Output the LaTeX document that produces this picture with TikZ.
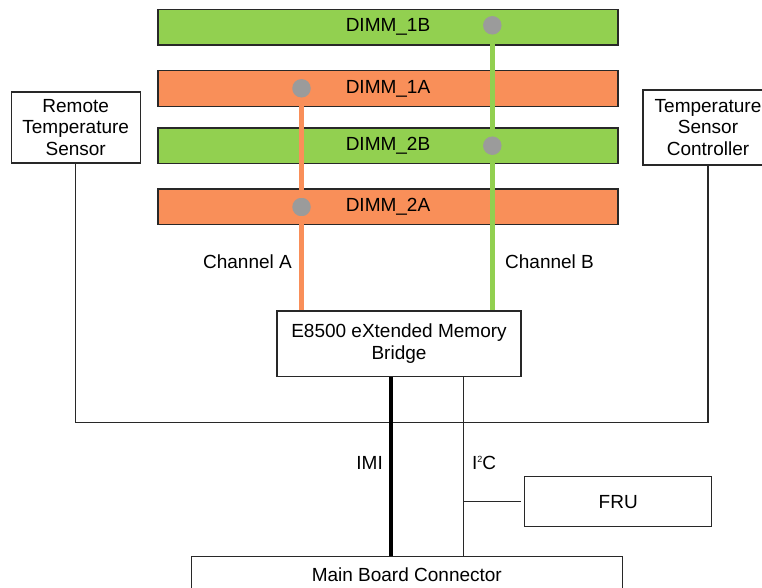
\documentclass[tikz,border=0pt]{standalone}
\usepackage{fontspec}
\setmainfont{Liberation Sans}
\definecolor{dimmgreen}{RGB}{146,208,80}
\definecolor{dimmorange}{RGB}{249,143,89}
\definecolor{dotgray}{RGB}{155,155,155}
\definecolor{edge}{RGB}{40,40,40}
\begin{document}
\begin{tikzpicture}[x=1pt,y=-1pt,
  every node/.style={font=\fontsize{19}{21.7}\selectfont, inner sep=0pt},
  box/.style={draw=edge, line width=1.2pt, fill=white, align=center, rectangle},
  dimmg/.style={draw=edge, line width=1.2pt, fill=dimmgreen, minimum width=460pt, minimum height=35.5pt},
  dimmo/.style={draw=edge, line width=1.2pt, fill=dimmorange, minimum width=460pt, minimum height=35.5pt},
  dot/.style={circle, fill=dotgray, minimum size=18.5pt},
  chA/.style={draw=dimmorange, line width=5.5pt},
  chB/.style={draw=dimmgreen, line width=5.5pt},
  wire/.style={draw=edge, line width=1.2pt},
  lbl/.style={}]
\useasboundingbox (0,0) rectangle (762,588);
\clip (0,0) rectangle (762,588);

% DIMM modules
\node[dimmg] (d1b) at (388,27.2) {DIMM\_1B};
\node[dimmo] (d1a) at (388,88.4) {DIMM\_1A};
\node[dimmg] (d2b) at (388,145.7) {DIMM\_2B};
\node[dimmo] (d2a) at (388,206.7) {DIMM\_2A};

% contact dots
\node[dot] (p1b) at (492.3,25.3) {};
\node[dot] (p1a) at (301.5,88.3) {};
\node[dot] (p2b) at (492.3,145.7) {};
\node[dot] (p2a) at (301.5,207) {};

% bridge
\node[box, minimum width=244pt, minimum height=65.7pt] (xmb) at (399,343.8) {E8500 eXtended Memory\\Bridge};

% channels
\draw[chA] (p1a.south) -- (p2a.north);
\draw[chA] (p2a.south) -- (p2a.south |- xmb.north);
\draw[chB] (p1b.south) -- (p2b.north);
\draw[chB] (p2b.south) -- (p2b.south |- xmb.north);
\node[lbl] (cha) at (247.5,262) {Channel A};
\node[lbl, anchor=west] (chb) at (505,262) {Channel B};

% temperature sensors
\node[box, minimum width=129pt, minimum height=71pt] (rts) at (75.7,127.5) {Remote\\Temperature\\Sensor};
\node[box, minimum width=130pt, minimum height=75pt] (tsc) at (708,127.5) {Temperature\\Sensor\\Controller};
\coordinate (bus) at (0,422.7);
\draw[wire] (rts.south) |- (bus -| tsc.south) -- (tsc.south);

% main board connector and FRU
\node[box, minimum width=431pt, minimum height=37pt, anchor=north west] (mbc) at (190.7,555.7) {Main Board Connector};
\node[box, minimum width=187pt, minimum height=50pt] (fru) at (618.2,501.7) {FRU};

\coordinate (imix) at (391,0);
\coordinate (i2cx) at (463.5,0);
\draw[draw=black, line width=3.2pt] (imix |- xmb.south) -- (imix |- mbc.north);
\draw[wire] (i2cx |- xmb.south) -- (i2cx |- mbc.north);
\draw[wire] (i2cx |- fru.west) -- ([xshift=-3pt]fru.west);
\node[lbl, anchor=east] (imil) at (383,463) {IMI};
\node[lbl, anchor=west] (i2cl) at (472,463) {I\raisebox{0.75ex}{\fontsize{9}{9}\selectfont 2}C};
\end{tikzpicture}
\end{document}
